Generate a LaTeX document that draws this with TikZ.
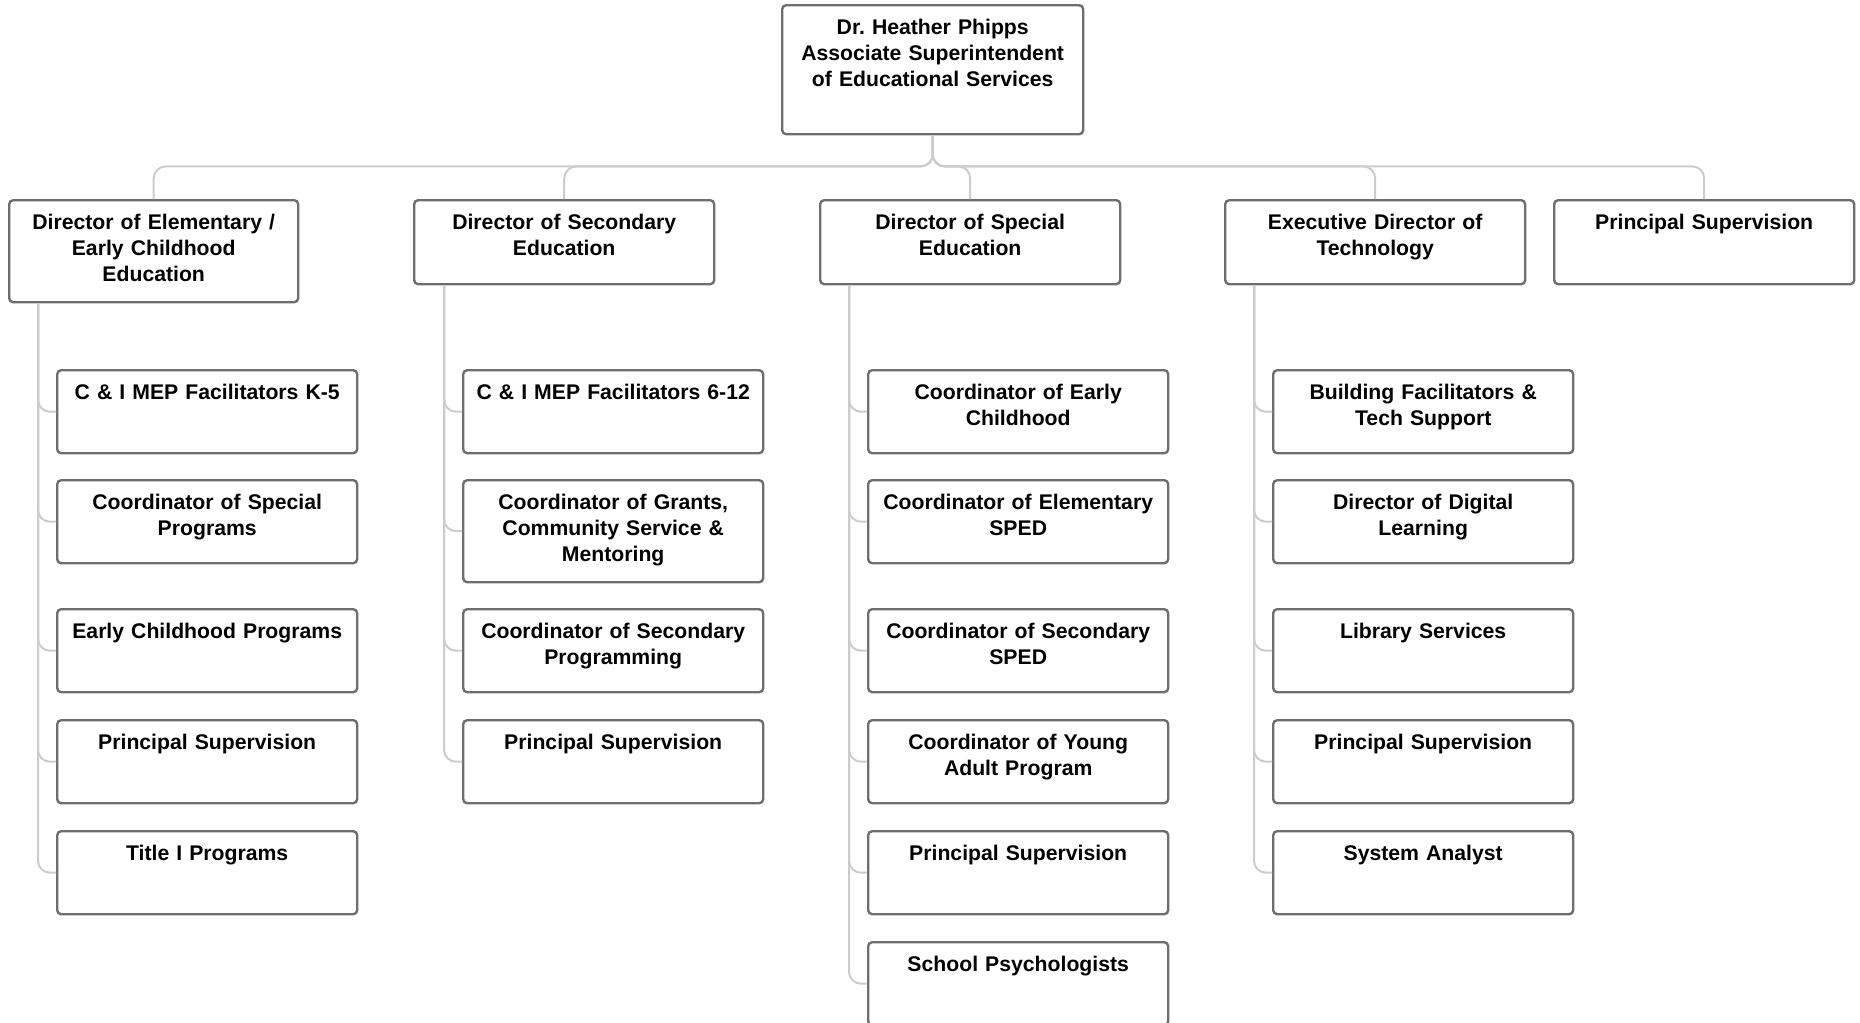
\documentclass[tikz,border=0pt]{standalone}
\usepackage{fontspec}
\setmainfont{Liberation Sans}
\definecolor{boxline}{HTML}{6E6E6E}
\definecolor{linkline}{HTML}{CCCCCC}
\tikzset{
  box/.style={draw=boxline, line width=1.2pt, rounded corners=2pt, fill=white,
    anchor=north west, inner sep=0pt, align=center, text width=150pt,
    text height=14.5pt, text depth=27pt,
    font=\fontsize{10.6pt}{13pt}\selectfont\bfseries},
  head/.style={box, text depth=27.5pt},
  tall/.style={text depth=36.5pt},
  link/.style={draw=linkline, line width=1pt, rounded corners=6pt}
}
\begin{document}
\begin{tikzpicture}[x=0.5pt,y=-0.5pt]
      \useasboundingbox (0,0) rectangle (1860,1023);
      \node[box, text width=150.5pt, text depth=50pt] (boss) at (781,4)
        {Dr.\ Heather Phipps\\Associate Superintendent\\of Educational Services};
      % directors
      \node[head, tall, text width=144.5pt] (elem) at (8,199) {Director of Elementary /\\Early Childhood\\Education};
      \node[head] (sec) at (413,199) {Director of Secondary\\Education};
      \node[head] (sped) at (819,199) {Director of Special\\Education};
      \node[head] (tech) at (1224,199) {Executive Director of\\Technology};
      \node[head] (prin) at (1553,199) {Principal Supervision};
      % elementary
      \node[box] (e1) at (56,369) {C \& I MEP Facilitators K-5};
      \node[box] (e2) at (56,479) {Coordinator of Special\\Programs};
      \node[box] (e3) at (56,608) {Early Childhood Programs};
      \node[box] (e4) at (56,719) {Principal Supervision};
      \node[box] (e5) at (56,830) {Title I Programs};
      % secondary
      \node[box] (s1) at (462,369) {C \& I MEP Facilitators 6-12};
      \node[box, tall] (s2) at (462,479) {Coordinator of Grants,\\Community Service \&\\Mentoring};
      \node[box] (s3) at (462,608) {Coordinator of Secondary\\Programming};
      \node[box] (s4) at (462,719) {Principal Supervision};
      % special education
      \node[box] (p1) at (867,369) {Coordinator of Early\\Childhood};
      \node[box] (p2) at (867,479) {Coordinator of Elementary\\SPED};
      \node[box] (p3) at (867,608) {Coordinator of Secondary\\SPED};
      \node[box] (p4) at (867,719) {Coordinator of Young\\Adult Program};
      \node[box] (p5) at (867,830) {Principal Supervision};
      \node[box] (p6) at (867,941) {School Psychologists};
      % technology
      \node[box] (t1) at (1272,369) {Building Facilitators \&\\Tech Support};
      \node[box] (t2) at (1272,479) {Director of Digital\\Learning};
      \node[box] (t3) at (1272,608) {Library Services};
      \node[box] (t4) at (1272,719) {Principal Supervision};
      \node[box] (t5) at (1272,830) {System Analyst};
      \begin{scope}[link]
        \draw (boss.south) -- ++(0,31) -| (elem.north);
        \draw (boss.south) -- ++(0,31) -| (sec.north);
        \draw (boss.south) -- ++(0,31) -| (sped.north);
        \draw (boss.south) -- ++(0,31) -| (tech.north);
        \draw (boss.south) -- ++(0,31) -| (prin.north);
        \draw ([xshift=15pt]elem.south west) |- (e1.west);
        \draw ([xshift=15pt]elem.south west) |- (e2.west);
        \draw ([xshift=15pt]elem.south west) |- (e3.west);
        \draw ([xshift=15pt]elem.south west) |- (e4.west);
        \draw ([xshift=15pt]elem.south west) |- (e5.west);
        \draw ([xshift=15.5pt]sec.south west) |- (s1.west);
        \draw ([xshift=15.5pt]sec.south west) |- (s2.west);
        \draw ([xshift=15.5pt]sec.south west) |- (s3.west);
        \draw ([xshift=15.5pt]sec.south west) |- (s4.west);
        \draw ([xshift=15pt]sped.south west) |- (p1.west);
        \draw ([xshift=15pt]sped.south west) |- (p2.west);
        \draw ([xshift=15pt]sped.south west) |- (p3.west);
        \draw ([xshift=15pt]sped.south west) |- (p4.west);
        \draw ([xshift=15pt]sped.south west) |- (p5.west);
        \draw ([xshift=15pt]sped.south west) |- (p6.west);
        \draw ([xshift=15pt]tech.south west) |- (t1.west);
        \draw ([xshift=15pt]tech.south west) |- (t2.west);
        \draw ([xshift=15pt]tech.south west) |- (t3.west);
        \draw ([xshift=15pt]tech.south west) |- (t4.west);
        \draw ([xshift=15pt]tech.south west) |- (t5.west);
      \end{scope}
    \end{tikzpicture}
\end{document}
